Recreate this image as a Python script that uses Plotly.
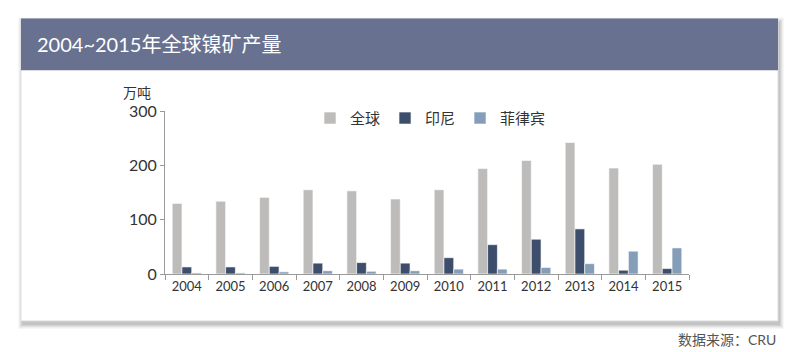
import plotly.graph_objects as go

years = ["2004", "2005", "2006", "2007", "2008", "2009", "2010", "2011", "2012", "2013", "2014", "2015"]
global_vals = [130, 134, 141, 155, 153, 138, 155, 194, 209, 242, 195, 202]
indonesia_vals = [13, 13, 14, 20, 21, 20, 30, 54, 64, 83, 7, 10]
philippines_vals = [2, 2, 4, 6, 5, 6, 9, 9, 12, 19, 42, 48]

series_names = ["全球", "印尼", "菲律宾"]
colors = ["#bdbcbb", "#3d4e6c", "#849db8"]

W, H = 793, 352
L, R, T, B = 165, 689, 110.7, 274.0

def px(x):
    return (x - L) / (R - L)

def py(y):
    return (B - y) / (B - T)

FONT = "Lato, 'Noto Sans CJK SC', sans-serif"

fig = go.Figure()
for name, vals, c in zip(series_names, [global_vals, indonesia_vals, philippines_vals], colors):
    fig.add_trace(go.Bar(x=years, y=vals, name=name,
                         marker=dict(color=c, line=dict(color="rgba(255,255,255,0.6)", width=1))))

shapes = []
# card shadow
for i, op in enumerate([0.03, 0.04, 0.05, 0.06, 0.07]):
    d = 5 - i
    shapes.append(dict(type="rect", xref="paper", yref="paper", layer="below",
                       x0=px(21 - d + 2), x1=px(778 + d + 1), y0=py(18 - d + 4), y1=py(321 + d + 3),
                       fillcolor=f"rgba(0,0,0,{op})", line=dict(width=0)))
shapes.append(dict(type="rect", xref="paper", yref="paper", layer="below",
                   x0=px(21), x1=px(778), y0=py(18), y1=py(321),
                   fillcolor="white", line=dict(color="#e0e0e0", width=1)))
shapes.append(dict(type="rect", xref="paper", yref="paper", layer="below",
                   x0=px(21), x1=px(778), y0=py(18), y1=py(70),
                   fillcolor="#68718f", line=dict(width=0)))

annotations = [
    dict(text="2004~2015年全球镍矿产量", xref="paper", yref="paper", x=px(35), y=py(44),
         xanchor="left", yanchor="middle", showarrow=False,
         font=dict(size=20, color="white", family=FONT)),
    dict(text="万吨", xref="paper", yref="paper", x=px(137), y=py(92),
         xanchor="center", yanchor="middle", showarrow=False,
         font=dict(size=14, color="#333333", family=FONT)),
    dict(text="数据来源：CRU", xref="paper", yref="paper", x=px(778), y=py(340),
         xanchor="right", yanchor="middle", showarrow=False,
         font=dict(size=14, color="#555555", family=FONT)),
]

fig.update_layout(
    width=W, height=H,
    margin=dict(l=L, r=W - R, t=T, b=H - B, pad=0),
    paper_bgcolor="white", plot_bgcolor="rgba(0,0,0,0)",
    barmode="group", bargap=0.33, bargroupgap=0,
    font=dict(family=FONT, color="#333333"),
    showlegend=True,
    legend=dict(orientation="h", x=px(310), y=py(118), xanchor="left", yanchor="middle",
                font=dict(size=15, color="#333333"), bgcolor="rgba(0,0,0,0)",
                itemwidth=30, traceorder="normal"),
    shapes=shapes, annotations=annotations,
    xaxis=dict(showline=True, linecolor="#9a9a9a", linewidth=1, ticks="outside",
               tickson="boundaries", ticklen=5, tickcolor="#9a9a9a",
               tickfont=dict(size=13, color="#333333"), showgrid=False, fixedrange=True),
    yaxis=dict(range=[0, 300], tickvals=[0, 100, 200, 300], showline=True, linecolor="#9a9a9a",
               linewidth=1, ticks="outside", ticklen=4, tickcolor="#9a9a9a",
               tickfont=dict(size=16, color="#333333"), showgrid=False, zeroline=False,
               fixedrange=True),
)

fig.write_html("out.html")
